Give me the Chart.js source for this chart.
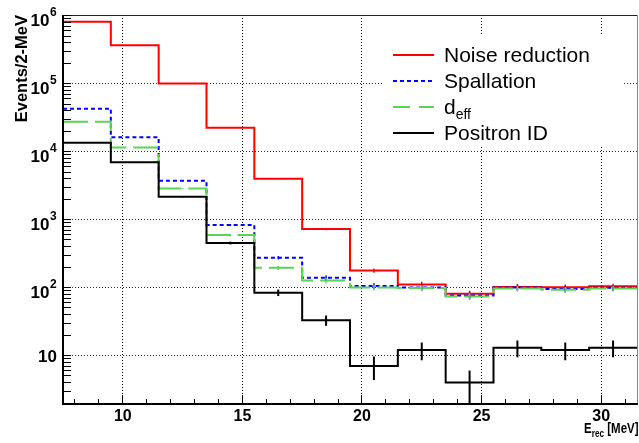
<!DOCTYPE html>
<html><head><meta charset="utf-8">
<script src="https://cdn.jsdelivr.net/npm/chart.js@4.4.0/dist/chart.umd.min.js"></script>
<style>html,body{margin:0;padding:0;background:#fff;overflow:hidden}</style>
</head><body>
<canvas id="c" width="639" height="443"></canvas>
<script>
// ---- data ----
const binEdges = [7.5, 9.5, 11.5, 13.5, 15.5, 17.5, 19.5, 21.5, 23.5, 25.5, 27.5, 29.5, 31.5];
const noiseReduction = [810000, 365000, 100000, 22400, 3980, 725, 178, 111, 81, 102, 101, 104];
const spallation     = [42700, 16200, 3720, 830, 274, 139, 105, 100, 76, 100, 95, 99];
const dEff           = [27500, 11500, 2870, 590, 195, 127, 100, 98, 74, 97, 92.5, 97];
const positronID     = [13500, 6930, 2160, 451, 84, 33, 7, 12, 4, 13, 12, 13];
const noiseReductionErr = [900, 604, 316, 150, 63, 27, 13, 10.5, 9, 10, 10, 10];
const spallationErr     = [207, 127, 61, 29, 16.6, 11.8, 10.2, 10, 8.7, 10, 9.7, 10];
const dEffErr           = [166, 107, 54, 24, 14, 11.3, 10, 9.9, 8.6, 9.8, 9.6, 9.8];
const positronIDErr     = [116, 83, 46, 21, 9.2, 5.7, 2.65, 3.5, 2, 3.6, 3.5, 3.6];
const seriesLabels = ['Noise reduction', 'Spallation', 'd_eff', 'Positron ID'];
const xTickValues = [10, 15, 20, 25, 30];
const yTickValues = [10, 100, 1000, 10000, 100000, 1000000];
const yTickExponents = ['', '2', '3', '4', '5', '6'];
const xTitle = ['E', 'rec', ' [MeV]'];
const yTitle = 'Events/2-MeV';

// ---- styles ----
const styles = [
  {color: '#ff0000', dash: [], legendDash: [], order: 4},
  {color: '#0000ff', dash: [4, 3], legendDash: [4, 3], order: 3},
  {color: '#59d454', dash: [25, 7], legendDash: [17, 9], order: 2},
  {color: '#000000', dash: [], legendDash: [], order: 1}
];
const seriesValues = [noiseReduction, spallation, dEff, positronID];
const seriesErrors = [noiseReductionErr, spallationErr, dEffErr, positronIDErr];
const FONT = '"Liberation Sans", Arial, Helvetica, sans-serif';

function stepPoints(vals) {
  const pts = vals.map((v, i) => ({x: binEdges[i], y: v}));
  pts.push({x: binEdges[binEdges.length - 1], y: vals[vals.length - 1]});
  return pts;
}

const datasets = seriesValues.map((vals, i) => ({
  label: seriesLabels[i],
  data: stepPoints(vals),
  borderColor: styles[i].color,
  backgroundColor: styles[i].color,
  borderWidth: 2,
  borderDash: styles[i].dash,
  borderCapStyle: 'butt',
  borderJoinStyle: 'miter',
  stepped: 'before',
  pointRadius: 0,
  fill: false,
  order: styles[i].order
}));

const rootStyle = {
  id: 'rootStyle',
  beforeDatasetsDraw(chart) {
    const ctx = chart.ctx, a = chart.chartArea;
    const xs = chart.scales.x, ys = chart.scales.y;
    ctx.save();
    ctx.lineWidth = 1;
    ctx.setLineDash([1, 2]);
    ctx.strokeStyle = '#000';
    xTickValues.forEach(v => {
      const px = Math.floor(xs.getPixelForValue(v)) + 0.5;
      ctx.beginPath(); ctx.moveTo(px, a.top); ctx.lineTo(px, a.bottom); ctx.stroke();
    });
    ctx.strokeStyle = '#333';
    yTickValues.forEach(v => {
      const py = Math.floor(ys.getPixelForValue(v)) + 0.5;
      if (py <= a.top + 1) return;
      ctx.beginPath(); ctx.moveTo(a.left, py); ctx.lineTo(a.right, py); ctx.stroke();
    });
    ctx.restore();
  },
  afterDatasetsDraw(chart) {
    const ctx = chart.ctx, a = chart.chartArea;
    const xs = chart.scales.x, ys = chart.scales.y;
    ctx.save();
    // error bars
    ctx.setLineDash([]);
    seriesValues.forEach((vals, i) => {
      ctx.strokeStyle = styles[i].color;
      ctx.lineWidth = i === 3 ? 2 : 1.5;
      vals.forEach((v, j) => {
        const e = seriesErrors[i][j];
        const xc = xs.getPixelForValue((binEdges[j] + binEdges[j + 1]) / 2);
        const y1 = Math.max(a.top, ys.getPixelForValue(v + e));
        const lo = Math.max(v - e, ys.min);
        const y2 = Math.min(a.bottom, ys.getPixelForValue(lo));
        ctx.beginPath(); ctx.moveTo(xc, y1); ctx.lineTo(xc, y2); ctx.stroke();
      });
    });
    // frame
    ctx.strokeStyle = '#222'; ctx.lineWidth = 1;
    ctx.beginPath(); ctx.moveTo(a.left, a.top + 0.5); ctx.lineTo(a.right, a.top + 0.5); ctx.stroke();
    ctx.strokeStyle = '#888';
    ctx.beginPath(); ctx.moveTo(a.right + 0.5, a.top); ctx.lineTo(a.right + 0.5, a.bottom); ctx.stroke();
    ctx.strokeStyle = '#000'; ctx.lineWidth = 2;
    ctx.beginPath(); ctx.moveTo(a.left, a.top); ctx.lineTo(a.left, a.bottom + 1); ctx.lineTo(a.right + 1, a.bottom + 1); ctx.stroke();
    // x ticks
    ctx.lineWidth = 1;
    for (let v = Math.ceil(xs.min); v <= xs.max; v++) {
      const px = Math.floor(xs.getPixelForValue(v)) + 0.5;
      const len = (v % 5 === 0) ? 8 : 4;
      ctx.beginPath(); ctx.moveTo(px, a.bottom); ctx.lineTo(px, a.bottom - len); ctx.stroke();
    }
    // y ticks (log)
    for (let n = 0; n <= 6; n++) {
      for (let k = 1; k <= 9; k++) {
        const v = k * Math.pow(10, n);
        if (v < ys.min || v > ys.max) continue;
        const py = Math.floor(ys.getPixelForValue(v)) + 0.5;
        ctx.beginPath(); ctx.moveTo(a.left, py); ctx.lineTo(a.left + 8, py); ctx.stroke();
      }
    }
    // x tick labels
    ctx.fillStyle = '#000';
    ctx.font = 'bold 16px ' + FONT;
    ctx.textAlign = 'center'; ctx.textBaseline = 'alphabetic';
    xTickValues.forEach(v => ctx.fillText(String(v), xs.getPixelForValue(v), 421));
    // y tick labels
    yTickValues.forEach((v, i) => {
      const py = ys.getPixelForValue(v);
      const ex = yTickExponents[i];
      if (!ex) {
        ctx.font = 'bold 17px ' + FONT; ctx.textAlign = 'right';
        ctx.fillText('10', 57, py + 7);
      } else {
        ctx.font = 'bold 17px ' + FONT; ctx.textAlign = 'right';
        ctx.fillText('10', 49.5, py + 10.4);
        ctx.font = 'bold 12px ' + FONT; ctx.textAlign = 'left';
        ctx.fillText(ex, 50, py + 0.5);
      }
    });
    // x title with subscript, right aligned (slightly condensed like the reference)
    const sx = 0.82;
    const f1 = 'bold 14px ' + FONT, f2 = 'bold 10px ' + FONT;
    ctx.font = f1; const w0 = ctx.measureText(xTitle[0]).width, w2 = ctx.measureText(xTitle[2]).width;
    ctx.font = f2; const w1 = ctx.measureText(xTitle[1]).width;
    ctx.save();
    ctx.translate(638.5, 0); ctx.scale(sx, 1);
    let xx = -(w0 + w1 + w2);
    ctx.textAlign = 'left';
    ctx.font = f1; ctx.fillText(xTitle[0], xx, 432.5); xx += w0;
    ctx.font = f2; ctx.fillText(xTitle[1], xx, 436.5); xx += w1;
    ctx.font = f1; ctx.fillText(xTitle[2], xx, 432.5);
    ctx.restore();
    // y title rotated
    ctx.save();
    ctx.translate(26.5, 15); ctx.rotate(-Math.PI / 2);
    ctx.font = 'bold 16.5px ' + FONT; ctx.textAlign = 'right';
    ctx.fillText(yTitle, 0, 0);
    ctx.restore();
    ctx.restore();
  },
  afterDraw(chart) {
    const ctx = chart.ctx;
    ctx.save();
    ctx.fillStyle = '#fff';
    ctx.fillRect(383, 34, 240, 113);
    seriesLabels.forEach((lab, i) => {
      const base = 62 + i * 26;
      const ly = base - 7;
      ctx.strokeStyle = styles[i].color; ctx.lineWidth = 2;
      ctx.setLineDash(styles[i].legendDash);
      ctx.beginPath(); ctx.moveTo(393, ly); ctx.lineTo(434, ly); ctx.stroke();
      ctx.setLineDash([]);
      ctx.fillStyle = '#000';
      ctx.textAlign = 'left'; ctx.textBaseline = 'alphabetic';
      const parts = lab.split('_');
      ctx.font = '21px ' + FONT;
      ctx.fillText(parts[0], 444, base);
      if (parts[1]) {
        const w = ctx.measureText(parts[0]).width;
        ctx.font = '14px ' + FONT;
        ctx.fillText(parts[1], 444 + w, base + 5);
      }
    });
    ctx.restore();
  }
};

new Chart(document.getElementById('c'), {
  type: 'line',
  data: {datasets},
  options: {
    responsive: false,
    animation: false,
    devicePixelRatio: 1,
    layout: {padding: {left: 63, right: 2, top: 15, bottom: 40}},
    scales: {
      x: {type: 'linear', min: binEdges[0], max: binEdges[binEdges.length - 1], display: false},
      y: {type: 'logarithmic', min: 2, max: 1.02e6, display: false}
    },
    plugins: {legend: {display: false}, tooltip: {enabled: false}},
    events: []
  },
  plugins: [rootStyle]
});
</script>
</body></html>
